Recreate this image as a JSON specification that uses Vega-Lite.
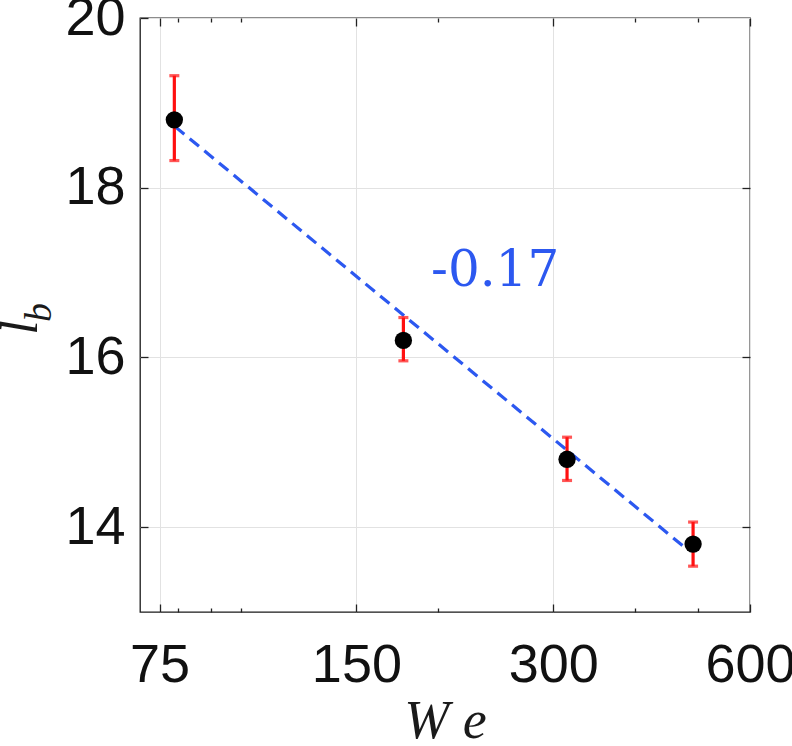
{
  "$schema": "https://vega.github.io/schema/vega-lite/v6.json",
  "width": 610,
  "height": 594,
  "autosize": {"type": "none"},
  "padding": {"left": 140, "top": 18, "right": 42, "bottom": 134},
  "background": "white",
  "config": {
    "view": {"stroke": "#1a1a1a", "strokeWidth": 1.3},
    "text": {"font": "Liberation Serif"},
    "axis": {
      "labelFont": "Liberation Sans",
      "labelFontSize": 54,
      "labelColor": "#111111",
      "labelFlush": false,
      "labelOverlap": false,
      "tickColor": "#222222",
      "tickWidth": 1.3,
      "domain": false,
      "grid": false,
      "gridColor": "#e2e2e2",
      "gridWidth": 1,
      "titleFont": "Liberation Serif",
      "titleFontStyle": "italic",
      "titleFontWeight": "normal",
      "titleColor": "#1a1a1a"
    }
  },
  "datasets": {
    "pts": [
      {"We": 79, "l": 18.8, "lo": 18.32, "hi": 19.32},
      {"We": 177, "l": 16.2, "lo": 15.96, "hi": 16.47},
      {"We": 315, "l": 14.8, "lo": 14.55, "hi": 15.06},
      {"We": 491, "l": 13.8, "lo": 13.54, "hi": 14.06}
    ],
    "fit": [
      {"We": 79.2, "l": 18.72},
      {"We": 477, "l": 13.76}
    ],
    "note": [
      {"We": 244.5, "l": 16.84, "label": "-0.17"}
    ]
  },
  "layer": [
    {
      "data": {"name": "fit"},
      "mark": {"type": "line", "color": "#2c58f0", "strokeWidth": 3.2, "strokeDash": [12, 7]},
      "encoding": {
        "x": {
          "field": "We", "type": "quantitative",
          "scale": {"type": "log", "domain": [70, 600], "nice": false},
          "axis": {
            "orient": "bottom", "values": [75, 150, 300, 600], "labels": true,
            "ticks": true, "tickSize": -8, "labelPadding": 34, "grid": true,
            "title": "W e", "titleFontSize": 54, "titleX": 305, "titleY": 125,
            "titleAlign": "center", "titleBaseline": "alphabetic", "titleAngle": 0
          }
        },
        "y": {
          "field": "l", "type": "quantitative",
          "scale": {"domain": [13, 20], "nice": false, "zero": false},
          "axis": {
            "orient": "left", "values": [14, 16, 18, 20], "labels": true,
            "ticks": true, "tickSize": -8, "labelPadding": 23, "grid": true,
            "title": "l", "titleFontSize": 52, "titleX": -104, "titleY": 309,
            "titleAlign": "center", "titleBaseline": "alphabetic", "titleAngle": -90
          }
        }
      }
    },
    {
      "data": {"name": "pts"},
      "mark": {"type": "errorbar", "color": "#ff1010", "thickness": 3.2, "size": 10, "ticks": true},
      "encoding": {
        "x": {
          "field": "We", "type": "quantitative",
          "scale": {"type": "log", "domain": [70, 600], "nice": false},
          "axis": {"orient": "top", "values": [75, 150, 300, 600], "labels": false, "ticks": true, "tickSize": -8, "grid": false, "title": null}
        },
        "y": {
          "field": "lo", "type": "quantitative",
          "scale": {"domain": [13, 20], "nice": false, "zero": false},
          "axis": {"orient": "right", "values": [14, 16, 18], "labels": false, "ticks": true, "tickSize": -8, "grid": false, "title": null}
        },
        "y2": {"field": "hi"}
      }
    },
    {
      "data": {"name": "pts"},
      "mark": {"type": "circle", "size": 300, "color": "#000000", "opacity": 1},
      "encoding": {
        "x": {
          "field": "We", "type": "quantitative",
          "scale": {"type": "log", "domain": [70, 600], "nice": false},
          "axis": {"orient": "bottom", "values": [80, 90, 100, 200, 400, 500], "labels": false, "ticks": true, "tickSize": -4, "grid": false, "title": null}
        },
        "y": {
          "field": "l", "type": "quantitative",
          "scale": {"domain": [13, 20], "nice": false, "zero": false},
          "axis": {
            "orient": "left", "labels": false, "ticks": false, "grid": false,
            "title": "b", "titleFontSize": 38, "titleX": -90, "titleY": 294,
            "titleAlign": "center", "titleBaseline": "alphabetic", "titleAngle": -90
          }
        }
      }
    },
    {
      "data": {"name": "note"},
      "mark": {"type": "text", "font": "DejaVu Serif", "fontSize": 50, "color": "#2c58f0", "align": "center", "baseline": "alphabetic"},
      "encoding": {
        "x": {
          "field": "We", "type": "quantitative",
          "scale": {"type": "log", "domain": [70, 600], "nice": false},
          "axis": {"orient": "top", "values": [80, 90, 100, 200, 400, 500], "labels": false, "ticks": true, "tickSize": -4, "grid": false, "title": null}
        },
        "y": {
          "field": "l", "type": "quantitative",
          "scale": {"domain": [13, 20], "nice": false, "zero": false},
          "axis": null
        },
        "text": {"field": "label"}
      }
    }
  ],
  "resolve": {"axis": {"x": "independent", "y": "independent"}}
}
